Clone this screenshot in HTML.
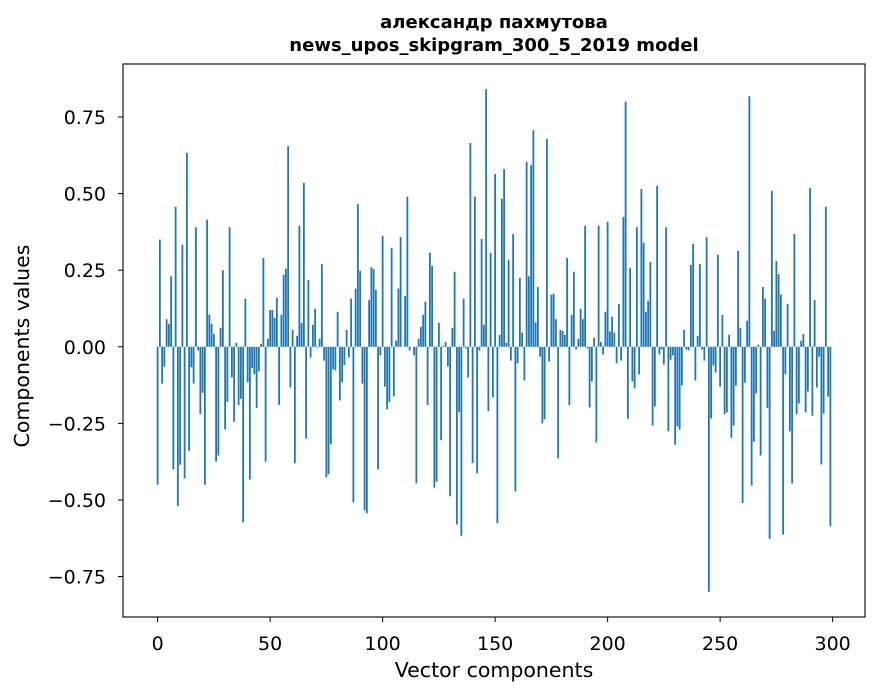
<!DOCTYPE html>
<html><head><meta charset="utf-8"><style>
html,body{margin:0;padding:0;background:#fff;}
svg{display:block;font-family:"DejaVu Sans","Liberation Sans",sans-serif;}
</style></head><body>
<svg id="chart" width="880" height="696" viewBox="0 0 880 696">
<rect width="880" height="696" fill="#fff"/>
<text x="494" y="28" text-anchor="middle" font-size="18" font-weight="bold">александр пахмутова</text>
<text x="494" y="51" text-anchor="middle" font-size="18" font-weight="bold">news_upos_skipgram_300_5_2019 model</text>
<g id="bars"></g>
<g id="axes"></g>
<text x="494" y="677" text-anchor="middle" font-size="20.5">Vector components</text>
<text transform="translate(29,346) rotate(-90)" text-anchor="middle" font-size="20.5">Components values</text>
</svg>
<script>
const values = [
-0.45,0.35,-0.12,-0.065,0.09,0.075,0.23,-0.40,0.457,-0.52,
-0.385,0.333,-0.43,0.633,-0.34,-0.067,-0.12,0.39,-0.012,-0.22,
-0.15,-0.45,0.415,0.105,0.075,0.042,-0.375,-0.355,0.062,0.25,
-0.27,-0.18,0.39,-0.10,-0.245,0.013,-0.19,-0.17,-0.573,0.157,
-0.116,-0.433,-0.07,-0.09,-0.20,-0.08,0.01,0.29,-0.375,0.026,
0.12,0.12,0.095,0.16,-0.19,0.104,0.235,0.255,0.655,-0.133,
0.055,-0.38,0.036,0.395,0.078,0.535,-0.30,0.218,-0.035,0.072,
0.124,-0.003,0.026,0.27,-0.045,-0.426,-0.416,-0.318,-0.074,-0.077,
0.114,-0.175,-0.116,-0.06,0.055,-0.035,0.157,-0.508,0.19,0.466,
0.248,-0.12,-0.534,-0.543,0.153,0.26,0.254,0.186,-0.40,-0.028,
0.362,-0.13,-0.204,-0.18,0.323,-0.162,0.02,0.19,0.358,0.0,
0.166,0.49,-0.012,0.0,-0.028,-0.446,0.026,0.065,0.104,0.147,
-0.19,0.307,0.264,-0.46,-0.44,0.078,-0.305,0.003,0.016,-0.064,
-0.488,0.062,0.245,-0.58,-0.213,-0.617,0.157,-0.005,-0.10,0.665,
-0.38,0.49,-0.413,-0.012,0.352,0.072,0.841,-0.21,0.307,-0.165,
0.564,-0.576,0.039,0.483,0.58,0.013,0.284,-0.045,0.368,-0.472,
-0.054,0.225,0.046,-0.11,0.603,0.23,0.593,0.707,0.08,0.195,
-0.032,-0.25,-0.237,0.678,-0.048,0.17,0.173,0.09,-0.364,0.055,
0.052,0.039,0.29,-0.19,0.104,0.245,-0.009,0.026,0.124,0.09,
0.395,-0.005,-0.198,-0.113,0.03,-0.312,0.395,0.016,-0.025,0.114,
0.408,0.05,0.098,0.046,-0.054,0.14,-0.045,0.424,0.80,-0.235,
0.258,-0.113,-0.136,0.39,-0.09,0.515,0.34,0.114,0.15,0.277,
-0.257,-0.195,0.525,-0.025,-0.009,-0.058,0.39,-0.276,-0.042,-0.028,
-0.32,-0.26,-0.27,-0.126,0.055,-0.009,-0.012,0.267,0.336,-0.11,
0.036,0.27,-0.009,-0.045,0.358,-0.80,-0.234,-0.061,-0.084,0.30,
-0.13,0.104,-0.22,-0.214,0.039,-0.297,-0.257,-0.127,0.313,0.062,
-0.51,-0.117,0.085,0.818,-0.453,-0.31,-0.152,0.007,-0.355,0.195,
0.157,-0.20,-0.627,0.509,0.052,0.28,0.237,0.17,-0.613,-0.09,
0.14,-0.276,-0.446,0.368,-0.22,-0.185,0.02,0.042,-0.214,-0.146,
0.518,-0.225,0.153,-0.133,-0.032,-0.384,-0.218,0.457,-0.163,-0.586
];
const xTicks = [0,50,100,150,200,250,300];
const yTicks = [-0.75,-0.5,-0.25,0,0.25,0.5,0.75];

const L=123,R=865,T=64,B=617;
const n=values.length;
const xMin=-0.4-0.05*(n-0.2), xMax=(n-1)+0.4+0.05*(n-0.2);
const vmax=Math.max(...values), vmin=Math.min(...values), span=vmax-vmin;
const yMax=vmax+0.05*span, yMin=vmin-0.05*span;
const sx=v=>L+(v-xMin)/(xMax-xMin)*(R-L);
const sy=v=>T+(yMax-v)/(yMax-yMin)*(B-T);
const NS='http://www.w3.org/2000/svg';
const bars=document.getElementById('bars');
values.forEach((v,i)=>{
  const r=document.createElementNS(NS,'rect');
  const x0=sx(i-0.4), x1=sx(i+0.4);
  const y0=sy(Math.max(v,0)), y1=sy(Math.min(v,0));
  r.setAttribute('x',x0);r.setAttribute('width',x1-x0);
  r.setAttribute('y',y0);r.setAttribute('height',Math.max(y1-y0,0));
  r.setAttribute('fill','#1f77b4');
  
  
  bars.appendChild(r);
});
const ax=document.getElementById('axes');
const frame=document.createElementNS(NS,'rect');
frame.setAttribute('x',L);frame.setAttribute('y',T);frame.setAttribute('width',R-L);frame.setAttribute('height',B-T);
frame.setAttribute('fill','none');frame.setAttribute('stroke','#000');frame.setAttribute('stroke-width','1.1');


ax.appendChild(frame);
xTicks.forEach(t=>{
  const x=sx(t);
  const l=document.createElementNS(NS,'line');
  l.setAttribute('x1',x);l.setAttribute('x2',x);l.setAttribute('y1',B);l.setAttribute('y2',B+5);l.setAttribute('stroke','#000');
  
  
  ax.appendChild(l);
  const tx=document.createElementNS(NS,'text');
  tx.setAttribute('x',x);tx.setAttribute('y',B+33);tx.setAttribute('text-anchor','middle');tx.setAttribute('font-size','19');
  tx.textContent=String(t);
  
  
  ax.appendChild(tx);
});
yTicks.forEach(t=>{
  const y=sy(t);
  const l=document.createElementNS(NS,'line');
  l.setAttribute('x1',L-5);l.setAttribute('x2',L);l.setAttribute('y1',y);l.setAttribute('y2',y);l.setAttribute('stroke','#000');
  
  
  ax.appendChild(l);
  const tx=document.createElementNS(NS,'text');
  tx.setAttribute('x',106);tx.setAttribute('y',y+7);tx.setAttribute('text-anchor','end');tx.setAttribute('font-size','19');
  tx.textContent=(t<0?'\u2212':'')+Math.abs(t).toFixed(2);
  
  
  ax.appendChild(tx);
});
</script>
</body></html>
